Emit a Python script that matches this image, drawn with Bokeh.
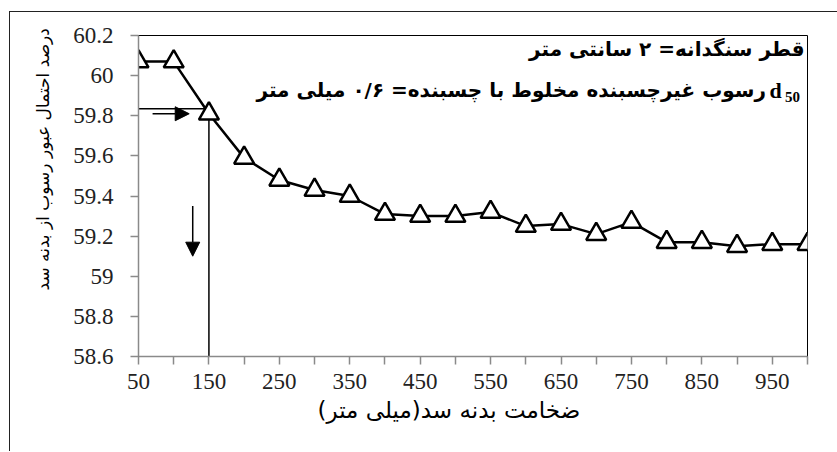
from bokeh.plotting import figure
from bokeh.models import FixedTicker, Label, Arrow, NormalHead, Title
from bokeh.embed import file_html
from bokeh.resources import INLINE

# ---- data ----
thickness = [50, 100, 150, 200, 250, 300, 350, 400, 450, 500,
             550, 600, 650, 700, 750, 800, 850, 900, 950, 1000]
probability = [60.07, 60.07, 59.81, 59.59, 59.48, 59.43, 59.40, 59.31, 59.30, 59.30,
               59.32, 59.25, 59.26, 59.21, 59.27, 59.17, 59.17, 59.15, 59.16, 59.16]
x_ticks = list(range(50, 1001, 50))
x_tick_labels = ["50", "", "150", "", "250", "", "350", "", "450", "", "550", "",
                 "650", "", "750", "", "850", "", "950", ""]
y_ticks = [58.6, 58.8, 59.0, 59.2, 59.4, 59.6, 59.8, 60.0, 60.2]
y_tick_labels = ["58.6", "58.8", "59", "59.2", "59.4", "59.6", "59.8", "60", "60.2"]
ref_x = 150
ref_y = 59.835
x_title = "ضخامت بدنه سد(میلی متر)"
y_title = "درصد احتمال عبور رسوب از بدنه سد"
note1 = "قطر سنگدانه= ۲ سانتی متر"
note2 = "رسوب غیرچسبنده مخلوط با چسبنده= ۰/۶ میلی متر"

fa_font = "DejaVu Sans"
num_font = "Liberation Serif"

p = figure(frame_width=669, frame_height=321,
           min_border_left=128, min_border_top=23, min_border_right=31, min_border_bottom=95,
           x_range=(50, 1000), y_range=(58.6, 60.2),
           output_backend="svg", toolbar_location=None,
           styles={"margin-left": "9px", "margin-top": "11px",
                   "border-left": "1.5px solid #222222", "border-top": "1.5px solid #222222",
                   "border-right": "none", "border-bottom": "none"})
p.grid.visible = False
p.outline_line_color = "black"
p.outline_line_width = 1
p.background_fill_color = "white"
p.border_fill_color = "white"

p.xaxis.ticker = FixedTicker(ticks=x_ticks)
p.xaxis.major_label_overrides = {t: l for t, l in zip(x_ticks, x_tick_labels)}
p.yaxis.ticker = FixedTicker(ticks=y_ticks)
p.yaxis.major_label_overrides = {t: l for t, l in zip(y_ticks, y_tick_labels)}

for ax in (p.xaxis, p.yaxis):
    ax.axis_line_color = "#8a8a8a"
    ax.axis_line_width = 1.5
    ax.major_tick_line_color = "#8a8a8a"
    ax.major_tick_line_width = 1.5
    ax.major_tick_in = 0
    ax.major_tick_out = 8
    ax.minor_tick_line_color = None
    ax.major_label_text_font = num_font
    ax.major_label_text_font_size = "23px"
    ax.major_label_text_color = "#222222"

p.xaxis.major_label_standoff = 9
p.yaxis.major_label_standoff = 17

# axis titles (as side titles so that they can be offset like the original)
p.add_layout(Title(text=x_title, align="left", offset=179, standoff=6,
                   text_font=fa_font, text_font_size="23px", text_font_style="normal",
                   text_color="black"), "below")
p.add_layout(Title(text=y_title, align="left", offset=66, standoff=36,
                   text_font=fa_font, text_font_size="17px", text_font_style="normal",
                   text_color="black"), "left")

# reference lines
p.line([thickness[0], ref_x], [ref_y, ref_y], line_color="black", line_width=1.5)
p.line([ref_x, ref_x], [ref_y, y_ticks[0]], line_color="black", line_width=1.5)

# arrows
p.add_layout(Arrow(end=NormalHead(size=14, fill_color="black", line_color="black"),
                   x_start=70, y_start=59.81, x_end=122, y_end=59.81,
                   line_width=1.5, line_color="black"))
p.add_layout(Arrow(end=NormalHead(size=14, fill_color="black", line_color="black"),
                   x_start=127, y_start=59.35, x_end=127, y_end=59.10,
                   line_width=1.5, line_color="black"))

# series
p.line(thickness, probability, line_color="black", line_width=2.5)
p.scatter(thickness, probability, marker="triangle", size=20,
          fill_color="white", line_color="black", line_width=2.5)

# notes
p.add_layout(Label(x=995.7, y=60.135, text=note1, text_align="right",
                   text_baseline="middle",
                   text_font=fa_font, text_font_size="20px", text_font_style="bold",
                   text_color="black"))
p.add_layout(Label(x=941, y=59.926, text=note2, text_align="right", text_baseline="middle",
                   text_font=fa_font, text_font_size="20px", text_font_style="bold",
                   text_color="black"))
p.add_layout(Label(x=946, y=59.926, text="d", text_align="left", text_baseline="middle",
                   text_font=num_font, text_font_size="22px", text_font_style="bold",
                   text_color="black"))
p.add_layout(Label(x=968, y=59.895, text="50", text_align="left", text_baseline="middle",
                   text_font=num_font, text_font_size="15px", text_font_style="bold",
                   text_color="black"))

open("out.html", "w").write(file_html(p, INLINE))
